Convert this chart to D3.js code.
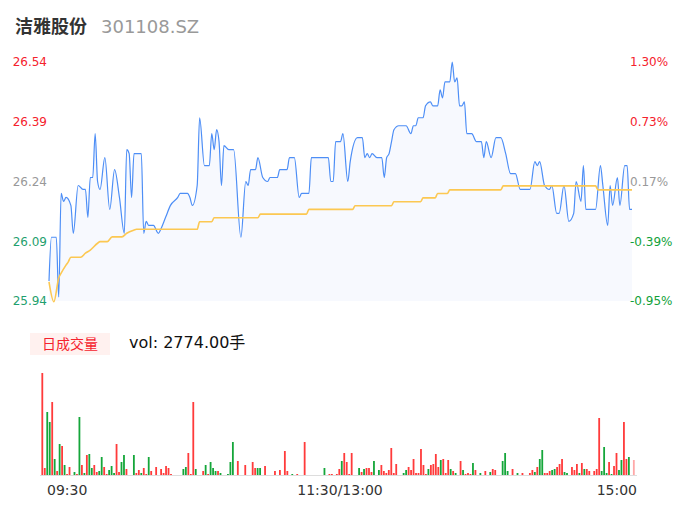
<html>
<head>
<meta charset="utf-8">
<script src="https://d3js.org/d3.v7.min.js"></script>
<style>
  body { margin: 0; background: #fff; }
  text { font-family: "DejaVu Sans", "Noto Sans CJK SC", sans-serif; }
</style>
</head>
<body>
<svg id="chart" width="686" height="524"></svg>
<script>
// price axis labels
var priceTicks = [26.54, 26.39, 26.24, 26.09, 25.94];
var pctLabels = ["1.30%", "0.73%", "0.17%", "-0.39%", "-0.95%"];
var timeLabels = ["09:30", "11:30/13:00", "15:00"];

// minute-by-minute price (minute index, price)
var priceMin = [0,1,3,4,5,6,7,9,10,12,14,15,16,17,18,19,20,21,23,25,27,29,31,32,33,34,35,38,39,40,41,43,45,46,48,50,53,54,57,58,59,61,62,64,66,67,68,69,70,71,72,74,76,79,81,82,83,85,86,88,90,91,94,95,98,99,101,103,104,107,108,115,116,117,118,120,121,123,124,127,129,130,131,132,133,135,137,138,139,140,141,142,144,147,149,150,151,152,154,155,157,158,160,161,162,163,165,166,167,168,169,170,171,172,174,176,178,179,180,182,184,186,188,190,192,194,198,200,201,202,204,206,207,209,210,212,214,216,217,219,220,221,225,227,228,230,231,232,234,235,237,238,239,240];
var priceVal = [25.99,26.10,26.10,25.95,26.21,26.19,26.20,26.18,26.11,26.23,26.22,26.22,26.15,26.25,26.25,26.36,26.24,26.22,26.30,26.17,26.27,26.20,26.11,26.32,26.31,26.20,26.31,26.31,26.11,26.14,26.13,26.13,26.11,26.12,26.15,26.18,26.20,26.21,26.21,26.20,26.18,26.23,26.40,26.28,26.28,26.36,26.32,26.37,26.34,26.23,26.33,26.32,26.32,26.10,26.24,26.23,26.27,26.27,26.30,26.25,26.24,26.25,26.25,26.27,26.27,26.30,26.30,26.20,26.21,26.21,26.30,26.30,26.24,26.24,26.34,26.34,26.36,26.24,26.29,26.35,26.35,26.30,26.31,26.30,26.31,26.30,26.30,26.25,26.30,26.31,26.34,26.37,26.38,26.38,26.36,26.38,26.38,26.40,26.40,26.43,26.44,26.43,26.43,26.47,26.45,26.49,26.49,26.54,26.49,26.50,26.43,26.43,26.44,26.36,26.36,26.34,26.34,26.30,26.34,26.30,26.35,26.35,26.31,26.26,26.26,26.22,26.22,26.29,26.28,26.29,26.23,26.22,26.23,26.16,26.16,26.23,26.14,26.16,26.24,26.19,26.28,26.17,26.17,26.28,26.23,26.13,26.23,26.18,26.25,26.18,26.28,26.28,26.17,26.17];

// average price
var avgMin = [0,2,4,5,7,8,9,13,15,17,20,21,24,26,30,32,35,36,61,62,67,68,86,87,106,107,125,126,141,142,153,154,159,160,164,165,186,187,225,226,240];
var avgVal = [25.988,25.938,25.998,26.010,26.030,26.039,26.050,26.050,26.060,26.068,26.085,26.089,26.089,26.101,26.101,26.110,26.118,26.120,26.120,26.139,26.139,26.149,26.149,26.158,26.158,26.170,26.170,26.179,26.179,26.189,26.189,26.199,26.199,26.210,26.210,26.219,26.219,26.229,26.229,26.219,26.219];

// volume bars (minute index, volume, direction r=up g=down p=closing auction)
var volMin = [0,1,2,3,4,5,6,7,8,9,10,11,13,14,15,16,17,18,19,20,21,22,23,24,25,26,27,28,29,30,31,32,33,34,37,38,39,40,41,42,43,44,46,48,49,50,51,52,57,58,59,60,61,62,65,66,67,68,69,70,71,72,75,76,77,79,82,85,86,87,88,90,94,96,98,99,101,103,106,114,116,117,119,120,121,122,123,124,125,128,129,130,131,132,133,134,136,137,138,139,140,141,142,143,146,147,148,149,150,151,152,153,154,155,156,157,158,159,160,161,162,163,164,165,166,167,169,170,171,172,173,174,175,177,179,181,182,183,186,187,188,190,192,194,197,198,199,200,201,202,203,204,205,206,207,208,209,210,211,212,214,215,216,217,218,219,220,221,223,224,225,226,227,228,229,230,231,232,233,234,235,236,237,239];
var volVal = [102,7,63,53,73,16,4,31,29,10,1,8,3,1,58,10,2,20,21,7,10,3,4,18,8,1,5,9,2,31,3,13,20,6,20,2,5,2,7,1,18,4,8,6,2,9,7,1,6,8,22,1,73,6,4,10,1,13,7,4,4,2,1,13,33,14,10,13,7,7,7,9,4,5,24,4,1,1,33,7,1,1,1,6,14,22,13,1,22,7,3,6,7,7,3,14,5,10,4,2,5,27,2,11,2,5,8,5,16,2,2,26,10,1,6,10,11,21,8,15,16,2,15,6,4,2,14,5,1,2,1,12,5,2,4,3,6,5,14,22,4,6,2,2,2,5,3,8,16,25,2,2,4,5,6,8,11,16,3,2,8,5,11,2,12,6,6,4,4,6,57,4,28,2,13,1,9,22,5,15,53,16,18,15];
var volDir = ("rrggrgrgrg" + "rrgrgrgrgg" + "rrggrrgggr" + "rggrgrrgrr" + "grrrrrrrgg" +
              "rrrgrgrggg" + "rggggrrrrg" + "grrrrrgrrg" + "rrrrgrrrrg" + "rgrrrggrrr" +
              "rrrrggrrrr" + "rrrrgrrrrg" + "rrrgrgrgrr" + "rgrgrgrrgg" + "grgrrrgrgg" +
              "rrrggrrrgg" + "rrrgrgrrrr" + "rgggrgrrgg" + "rrgp").split("");

var svg = d3.select("#chart");
var red = "#f5222d", green = "#12a13a";

// header
svg.append("text").attr("x", 15).attr("y", 33)
  .attr("font-size", 18).attr("font-weight", "bold").attr("fill", "#333").text("洁雅股份");
svg.append("text").attr("x", 101).attr("y", 33)
  .attr("font-size", 18).attr("fill", "#999").text("301108.SZ");

// price chart
var x = d3.scaleLinear().domain([0, 240]).range([49, 632]);
var y = d3.scaleLinear().domain([25.94, 26.54]).range([301, 62]);

var pricePts = priceMin.map(function(m, i) { return [m, priceVal[i]]; });
var avgPts = avgMin.map(function(m, i) { return [m, avgVal[i]]; });

svg.append("path")
  .attr("d", d3.area().x(function(d) { return x(d[0]); }).y0(301).y1(function(d) { return y(d[1]); })
    .curve(d3.curveMonotoneX)(pricePts))
  .attr("fill", "#f7f9fe");

svg.append("path")
  .attr("d", d3.line().x(function(d) { return x(d[0]); }).y(function(d) { return y(d[1]); })
    .curve(d3.curveMonotoneX)(pricePts))
  .attr("fill", "none").attr("stroke", "#4d8ef6").attr("stroke-width", 1.2);

svg.append("path")
  .attr("d", d3.line().x(function(d) { return x(d[0]); }).y(function(d) { return y(d[1]); })
    .curve(d3.curveMonotoneX)(avgPts))
  .attr("fill", "none").attr("stroke", "#fcc852").attr("stroke-width", 1.6);

var leftColors = [red, red, "#999", "#1f9f6e", "#1f9f6e"];
var rightColors = [red, red, "#999", green, green];
priceTicks.forEach(function(t, i) {
  svg.append("text").attr("x", 47).attr("y", y(t)).attr("dy", "0.36em")
    .attr("text-anchor", "end").attr("font-size", 12).attr("fill", leftColors[i]).text(t.toFixed(2));
  svg.append("text").attr("x", 630).attr("y", y(t)).attr("dy", "0.36em")
    .attr("font-size", 12).attr("fill", rightColors[i]).text(pctLabels[i]);
});

// volume legend
svg.append("rect").attr("x", 30).attr("y", 333).attr("width", 80).attr("height", 22).attr("fill", "#fff1ef");
svg.append("text").attr("x", 70).attr("y", 344).attr("dy", "0.36em").attr("text-anchor", "middle")
  .attr("font-size", 14).attr("fill", red).text("日成交量");
svg.append("text").attr("x", 129).attr("y", 342).attr("dy", "0.36em")
  .attr("font-size", 16).attr("fill", "#111").text("vol: 2774.00手");

// volume bars
var vx = d3.scaleLinear().domain([0, 240]).range([42.3, 636.3]);
var vy = d3.scaleLinear().domain([0, 102]).range([475, 373]);
var barColor = { r: "#ff3b3b", g: "#15a63a", p: "#ffa8a8" };

svg.append("g").selectAll("rect").data(volMin).enter().append("rect")
  .attr("x", function(m) { return vx(m) - 0.9; })
  .attr("width", 1.8)
  .attr("y", function(m, i) { return vy(volVal[i]); })
  .attr("height", function(m, i) { return 475 - vy(volVal[i]); })
  .attr("fill", function(m, i) { return barColor[volDir[i]]; });

svg.append("line").attr("x1", 40).attr("x2", 637).attr("y1", 475.5).attr("y2", 475.5)
  .attr("stroke", "#ddd");

// time axis
svg.append("text").attr("x", 47).attr("y", 490).attr("dy", "0.36em").attr("font-size", 14).attr("fill", "#333").text(timeLabels[0]);
svg.append("text").attr("x", 340).attr("y", 490).attr("dy", "0.36em").attr("text-anchor", "middle").attr("font-size", 14).attr("fill", "#333").text(timeLabels[1]);
svg.append("text").attr("x", 637).attr("y", 490).attr("dy", "0.36em").attr("text-anchor", "end").attr("font-size", 14).attr("fill", "#333").text(timeLabels[2]);
</script>
</body>
</html>
